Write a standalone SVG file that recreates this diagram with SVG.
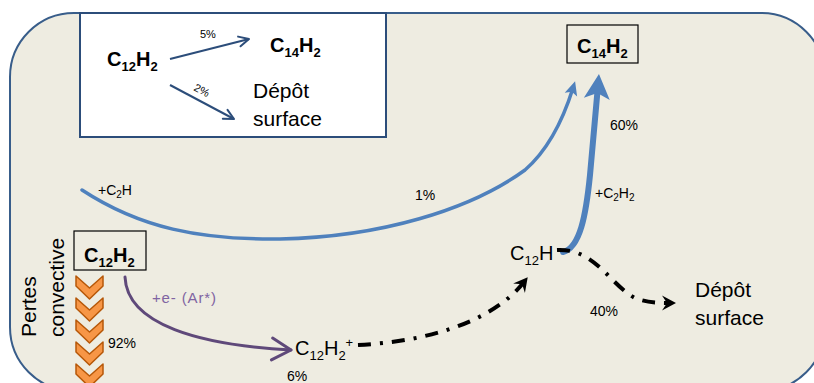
<svg xmlns="http://www.w3.org/2000/svg" width="814" height="383" viewBox="0 0 814 383">
<style>
text{font-family:"Liberation Sans",Arial,sans-serif;fill:#000}
.b{font-weight:bold;font-size:20px}
.n{font-size:20px}
.big{font-size:21px}
.s{font-size:14px}
.ss{font-size:11px}
.box{fill:none;stroke:#000;stroke-width:1.2}
.blue{fill:none;stroke:#4F81BD;stroke-linecap:round}
.dd{fill:none;stroke:#000;stroke-width:4;stroke-dasharray:13 9 3 9}
.chev{fill:#F79646;stroke:#B65708;stroke-width:1.5;stroke-linejoin:round}
</style>
<defs>
<marker id="hBlue" markerUnits="userSpaceOnUse" viewBox="-20 -10 30 20" refX="-7" refY="0" markerWidth="30" markerHeight="20" orient="auto">
<path d="M0,0 L-14,-6.5 L-11,0 L-14,6.5 Z" fill="#4F81BD"/>
</marker>
<marker id="hBlueBig" markerUnits="userSpaceOnUse" viewBox="-30 -15 35 30" refX="-17" refY="0" markerWidth="35" markerHeight="30" orient="auto">
<path d="M0,0 L-25,-13 L-19,0 L-25,13 Z" fill="#4F81BD"/>
</marker>
<marker id="hBlack" markerUnits="userSpaceOnUse" viewBox="-20 -10 25 20" refX="-6" refY="0" markerWidth="25" markerHeight="20" orient="auto">
<path d="M0,0 L-14,-7.5 L-9,0 L-14,7.5 Z" fill="#000"/>
</marker>
<marker id="hPurple" markerUnits="userSpaceOnUse" viewBox="-25 -15 30 30" refX="0" refY="0" markerWidth="30" markerHeight="30" orient="auto">
<path d="M-19,-11 L0,0 L-19,11" fill="none" stroke="#5F497A" stroke-width="3" stroke-linecap="round" stroke-linejoin="round"/>
</marker>
<marker id="hNavy" markerUnits="userSpaceOnUse" viewBox="-15 -10 20 20" refX="0" refY="0" markerWidth="20" markerHeight="20" orient="auto">
<path d="M-10,-5 L0,0 L-10,5" fill="none" stroke="#2C4D7A" stroke-width="2" stroke-linecap="round" stroke-linejoin="round"/>
</marker>
</defs>

<g id="background">
<rect x="10" y="13" width="815" height="378" rx="64" ry="64" fill="#EEECE1" stroke="#385D8A" stroke-width="2"/>
</g>

<g id="inset">
<rect x="80" y="13" width="306" height="124" fill="#FFFFFF" stroke="#2C4D7A" stroke-width="2"/>
<text class="b" x="107" y="66">C<tspan font-size="13" dy="5">12</tspan><tspan dy="-5">H</tspan><tspan font-size="13" dy="5">2</tspan></text>
<text class="b" x="270" y="52">C<tspan font-size="13" dy="5">14</tspan><tspan dy="-5">H</tspan><tspan font-size="13" dy="5">2</tspan></text>
<text class="big" x="253" y="98">Dépôt</text>
<text class="big" x="253" y="126">surface</text>
<path d="M170,59 L249,39" fill="none" stroke="#2C4D7A" stroke-width="2" marker-end="url(#hNavy)"/>
<path d="M170,85 L234,119" fill="none" stroke="#2C4D7A" stroke-width="2" marker-end="url(#hNavy)"/>
<text class="ss" x="200" y="38">5%</text>
<text class="ss" transform="translate(193,90) rotate(28)">2%</text>
</g>

<g id="connectors">
<path class="blue" stroke-width="3.5" d="M82,190 C140,228 200,240 280,239 C380,237 470,210 525,170 C548,150 563,120 573,88" marker-end="url(#hBlue)"/>
<path class="blue" stroke-width="6" d="M563,252 C580,248 586,215 590,175 C592,150 595,120 597.5,91" marker-end="url(#hBlueBig)"/>
<path d="M125,277 C127,325 200,345 291,350" fill="none" stroke="#5F497A" stroke-width="3" stroke-linecap="round" marker-end="url(#hPurple)"/>
<path class="dd" d="M358,345 C420,342 490,325 524,282" marker-end="url(#hBlack)"/>
<path class="dd" d="M557,250 C595,248 610,285 635,298 C645,302 655,303 670,303" marker-end="url(#hBlack)"/>
</g>

<g id="node-c14h2">
<rect class="box" x="567" y="25" width="71" height="38" fill="none"/>
<text class="b" x="577" y="53">C<tspan font-size="13" dy="5">14</tspan><tspan dy="-5">H</tspan><tspan font-size="13" dy="5">2</tspan></text>
</g>

<g id="node-c12h2">
<rect class="box" x="74" y="231" width="72" height="39"/>
<text class="b" x="84" y="262">C<tspan font-size="13" dy="5">12</tspan><tspan dy="-5">H</tspan><tspan font-size="13" dy="5">2</tspan></text>
</g>

<g id="node-c12h2plus">
<text class="n" x="295" y="355">C<tspan font-size="13" dy="5">12</tspan><tspan dy="-5">H</tspan><tspan font-size="13" dy="5">2</tspan><tspan font-size="13" dy="-13">+</tspan></text>
</g>

<g id="node-c12h">
<text class="n" x="510" y="260">C<tspan font-size="13" dy="5">12</tspan><tspan dy="-5">H</tspan></text>
</g>

<g id="node-depot">
<text class="big" x="695" y="297">Dépôt</text>
<text class="big" x="695" y="325">surface</text>
</g>

<g id="pertes">
<text class="big" transform="translate(36,337) rotate(-90)">Pertes</text>
<text class="big" transform="translate(64,337) rotate(-90)">convective</text>
<g id="chevrons">
<path class="chev" d="M76,276 L89.5,288 L103,276 L103,286 L89.5,299 L76,286 Z"/>
<path class="chev" d="M76,298 L89.5,310 L103,298 L103,308 L89.5,321 L76,308 Z"/>
<path class="chev" d="M76,320 L89.5,332 L103,320 L103,330 L89.5,343 L76,330 Z"/>
<path class="chev" d="M76,342 L89.5,354 L103,342 L103,352 L89.5,365 L76,352 Z"/>
<path class="chev" d="M76,364 L89.5,376 L103,364 L103,374 L89.5,387 L76,374 Z"/>
</g>
</g>

<g id="labels">
<text class="s" x="98" y="195">+C<tspan font-size="10" dy="3">2</tspan><tspan dy="-3">H</tspan></text>
<text class="s" x="415" y="200">1%</text>
<text class="s" x="610" y="130">60%</text>
<text class="s" x="595" y="198">+C<tspan font-size="10" dy="3">2</tspan><tspan dy="-3">H</tspan><tspan font-size="10" dy="3">2</tspan></text>
<text x="152" y="303" font-size="15" fill="#8064A2" style="fill:#8064A2" textLength="64" lengthAdjust="spacing">+e- (Ar*)</text>
<text class="s" x="108" y="348">92%</text>
<text class="s" x="287" y="381">6%</text>
<text class="s" x="590" y="316">40%</text>
</g>
</svg>
